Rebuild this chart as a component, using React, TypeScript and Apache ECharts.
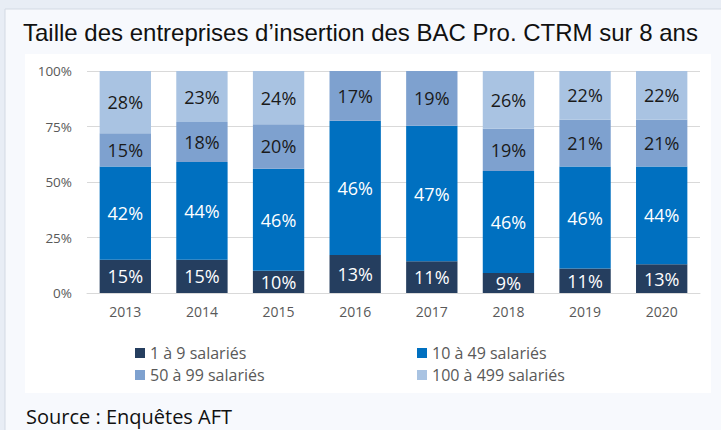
import React, { useEffect, useRef } from "react";
import * as echarts from "echarts";

const years = ["2013", "2014", "2015", "2016", "2017", "2018", "2019", "2020"];
const seriesNames = ["1 à 9 salariés", "10 à 49 salariés", "50 à 99 salariés", "100 à 499 salariés"];
const small = [15, 15, 10, 13, 11, 9, 11, 13];
const medium = [42, 44, 46, 46, 47, 46, 46, 44];
const large = [15, 18, 20, 17, 19, 19, 21, 21];
const veryLarge = [28, 23, 24, 0, 0, 26, 22, 22];
const yTicks = [0, 25, 50, 75, 100];
const colors = ["#253E5F", "#0070C0", "#7EA1CF", "#A9C3E2"];
const labelColors = ["#ffffff", "#ffffff", "#1a1a1a", "#1a1a1a"];
const title = "Taille des entreprises d\u2019insertion des BAC Pro. CTRM sur 8 ans";
const source = "Source : Enquêtes AFT";

export default function App() {
  const ref = useRef<HTMLDivElement>(null);
  useEffect(() => {
    document.body.style.margin = "0";
    const chart = echarts.init(ref.current!, undefined, { renderer: "svg" });
    const raw = [small, medium, large, veryLarge];
    const totals = years.map((_, i) => raw.reduce((s, arr) => s + arr[i], 0));
    const font = "'Open Sans', sans-serif";
    chart.setOption({
      animation: false,
      backgroundColor: "#E8EDF5",
      graphic: [
        { type: "rect", shape: { x: 5, y: 9, width: 720, height: 425 }, style: { fill: "#F7F9FD", stroke: "#D3D9E3", lineWidth: 1 }, z: -10, silent: true },
        { type: "rect", shape: { x: 25, y: 54, width: 686, height: 339 }, style: { fill: "#FFFFFF" }, z: -9, silent: true },
        { type: "text", x: 23, y: 32, style: { text: title, font: "24px 'Liberation Sans', Arial, sans-serif", fill: "#111111", textVerticalAlign: "middle" }, z: 10 },
        { type: "text", x: 26, y: 416, style: { text: source, font: "20px " + font, fill: "#111111", textVerticalAlign: "middle" }, z: 10 },
      ],
      grid: { left: 87, right: 21, top: 71, bottom: 137 },
      legend: [
        {
          orient: "vertical", left: 135, top: 345, padding: 0, itemWidth: 10, itemHeight: 10, itemGap: 6, icon: "rect",
          data: [seriesNames[0], seriesNames[2]],
          textStyle: { fontFamily: font, fontSize: 16, color: "#595959" },
        },
        {
          orient: "vertical", left: 417, top: 345, padding: 0, itemWidth: 10, itemHeight: 10, itemGap: 6, icon: "rect",
          data: [seriesNames[1], seriesNames[3]],
          textStyle: { fontFamily: font, fontSize: 16, color: "#595959" },
        },
      ],
      xAxis: {
        type: "category",
        data: years,
        axisLine: { lineStyle: { color: "#D9D9D9" } },
        axisTick: { show: false },
        axisLabel: { color: "#595959", fontFamily: font, fontSize: 14, margin: 11 },
      },
      yAxis: {
        type: "value",
        min: yTicks[0],
        max: yTicks[yTicks.length - 1],
        interval: 25,
        axisLabel: { formatter: "{value}%", color: "#595959", fontFamily: font, fontSize: 13.5, margin: 15 },
        splitLine: { lineStyle: { color: "#D9D9D9" } },
        axisLine: { show: false },
        axisTick: { show: false },
      },
      series: raw.map((arr, si) => ({
        name: seriesNames[si],
        type: "bar",
        stack: "total",
        barCategoryGap: "33%",
        itemStyle: { color: colors[si] },
        data: arr.map((v, i) => (v > 0 ? (v / totals[i]) * 100 : null)),
        label: {
          show: true,
          position: "inside",
          color: labelColors[si],
          fontFamily: font,
          fontSize: 18,
          formatter: (p: any) => raw[si][p.dataIndex] + "%",
        },
      })),
    });
    return () => chart.dispose();
  }, []);
  return <div ref={ref} style={{ width: 721, height: 430 }} />;
}
